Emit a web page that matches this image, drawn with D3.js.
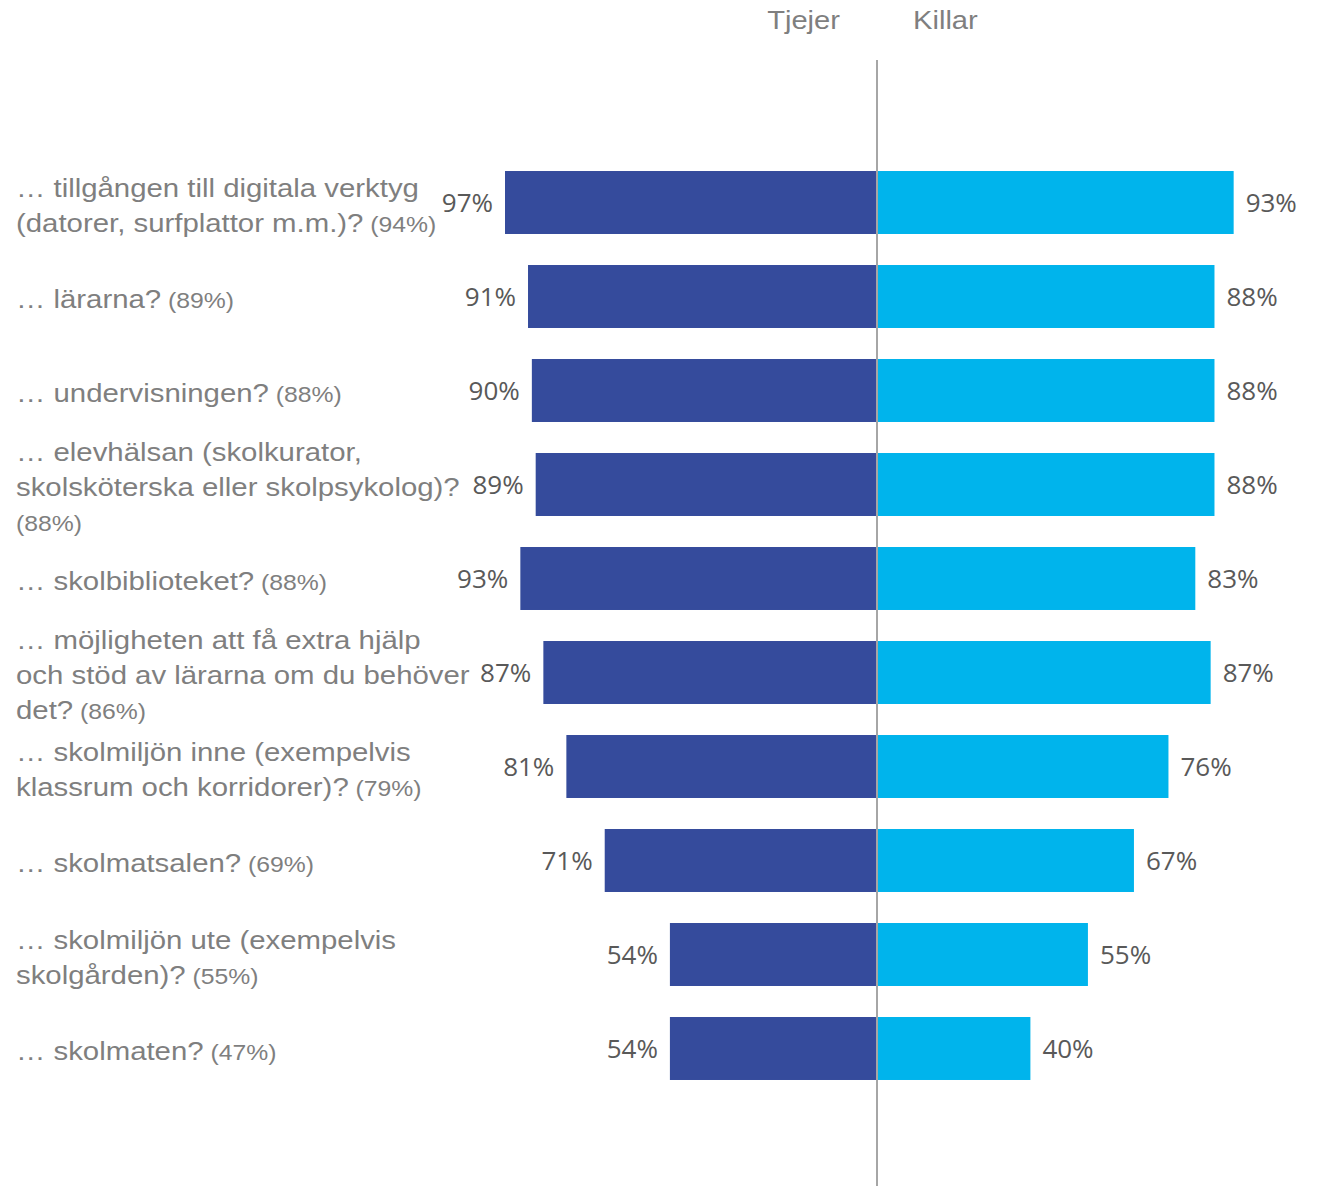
<!DOCTYPE html>
<html>
<head>
<meta charset="utf-8">
<script src="https://cdn.jsdelivr.net/npm/d3@7"></script>
<style>
  html, body { margin: 0; padding: 0; background: #ffffff; }
  svg { display: block; }
</style>
</head>
<body>
<svg id="chart" width="1321" height="1186"></svg>
<script>
// ---- Data ----
const categoryLines = [
  ["… tillgången till digitala verktyg", "(datorer, surfplattor m.m.)?"],
  ["… lärarna?"],
  ["… undervisningen?"],
  ["… elevhälsan (skolkurator,", "skolsköterska eller skolpsykolog)?", ""],
  ["… skolbiblioteket?"],
  ["… möjligheten att få extra hjälp", "och stöd av lärarna om du behöver", "det?"],
  ["… skolmiljön inne (exempelvis", "klassrum och korridorer)?"],
  ["… skolmatsalen?"],
  ["… skolmiljön ute (exempelvis", "skolgården)?"],
  ["… skolmaten?"]
];
const totals = ["94%", "89%", "88%", "88%", "88%", "86%", "79%", "69%", "55%", "47%"];
const tjejer = [97, 91, 90, 89, 93, 87, 81, 71, 54, 54];
const killar = [93, 88, 88, 88, 83, 87, 76, 67, 55, 40];
const seriesNames = ["Tjejer", "Killar"];

// ---- Layout ----
const svg = d3.select("#chart");
const cx = 877;
const x = d3.scaleLinear().domain([0, 100]).range([0, 383.5]);
const y = d3.scaleBand()
  .domain(d3.range(tjejer.length))
  .range([155.5, 1095.5])
  .paddingInner(0.33)
  .paddingOuter(0.165);

const colLeft = "#354B9C";
const colRight = "#00B4EC";
const labelGray = "#7F7F7F";
const valueGray = "#595959";

// Bars
svg.append("g").selectAll("rect.l")
  .data(tjejer).join("rect")
  .attr("x", d => cx - x(d))
  .attr("y", (d, i) => y(i))
  .attr("width", d => x(d))
  .attr("height", y.bandwidth())
  .attr("fill", colLeft);

svg.append("g").selectAll("rect.r")
  .data(killar).join("rect")
  .attr("x", cx)
  .attr("y", (d, i) => y(i))
  .attr("width", d => x(d))
  .attr("height", y.bandwidth())
  .attr("fill", colRight);

// Center line
svg.append("line")
  .attr("x1", cx).attr("x2", cx)
  .attr("y1", 60).attr("y2", 1186)
  .attr("stroke", "#A6A6A6")
  .attr("stroke-width", 2);

// Value labels
const valFont = "'Open Sans', 'Noto Sans', sans-serif";
svg.append("g").selectAll("text")
  .data(tjejer).join("text")
  .attr("x", d => cx - x(d) - 12)
  .attr("y", (d, i) => y(i) + y.bandwidth() / 2 + 9.5)
  .attr("text-anchor", "end")
  .attr("font-family", valFont)
  .attr("font-size", 26)
  .attr("fill", valueGray)
  .text(d => d + "%");

svg.append("g").selectAll("text")
  .data(killar).join("text")
  .attr("x", d => cx + x(d) + 12)
  .attr("y", (d, i) => y(i) + y.bandwidth() / 2 + 9.5)
  .attr("text-anchor", "start")
  .attr("font-family", valFont)
  .attr("font-size", 26)
  .attr("fill", valueGray)
  .text(d => d + "%");

// Category labels
const catFont = "'Liberation Sans', Arial, sans-serif";
const lineH = 35;
const catG = svg.append("g");
categoryLines.forEach((lines, i) => {
  const c = y(i) + y.bandwidth() / 2;
  const n = lines.length;
  lines.forEach((ln, j) => {
    const base = c + 11.5 + (j - (n - 1) / 2) * lineH;
    const t = catG.append("text")
      .attr("transform", `translate(16,${base}) scale(1.1,1)`)
      .attr("font-family", catFont)
      .attr("fill", labelGray)
      .attr("font-size", 26.7);
    if (ln !== "") t.append("tspan").text(ln);
    if (j === n - 1) {
      t.append("tspan")
        .attr("font-size", 22.5)
        .text((ln !== "" ? " " : "") + "(" + totals[i] + ")");
    }
  });
});

// Series headers
svg.append("text")
  .attr("transform", `translate(${cx - 37},29) scale(1.1,1)`)
  .attr("text-anchor", "end")
  .attr("font-family", catFont)
  .attr("font-size", 26.5)
  .attr("fill", labelGray)
  .text(seriesNames[0]);
svg.append("text")
  .attr("transform", `translate(${cx + 36},29) scale(1.1,1)`)
  .attr("text-anchor", "start")
  .attr("font-family", catFont)
  .attr("font-size", 26.5)
  .attr("fill", labelGray)
  .text(seriesNames[1]);
</script>
</body>
</html>
